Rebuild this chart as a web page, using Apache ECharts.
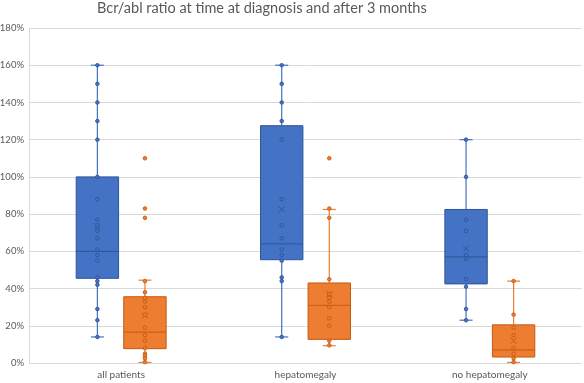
<!DOCTYPE html>
<html>
<head>
<meta charset="utf-8">
<script src="https://cdn.jsdelivr.net/npm/echarts@6/dist/echarts.min.js"></script>
<style>html,body{margin:0;padding:0;background:#fff}#c{width:584px;height:383px}</style>
</head>
<body>
<div id="c"></div>
<script>
var categories = ['all patients', 'hepatomegaly', 'no hepatomegaly'];
var yTicks = [0, 20, 40, 60, 80, 100, 120, 140, 160, 180];

// Box statistics (percent), one entry per category
var diagMin  = [14, 14, 23];
var diagQ1   = [45.5, 55.5, 42.5];
var diagMed  = [60, 64, 57];
var diagQ3   = [100, 127.5, 82.5];
var diagMax  = [160, 160, 120];
var diagMean = [73.5, 82.5, 61.5];

var m3Min  = [0.3, 9.3, 0.3];
var m3Q1   = [7.7, 12.7, 3.2];
var m3Med  = [16.6, 31, 7];
var m3Q3   = [35.6, 43, 20.5];
var m3Max  = [44.5, 82.5, 44];
var m3Mean = [25.5, 37, 12];

// Individual points (percent)
var diagAll   = [160, 150, 140, 130, 120, 100, 88, 77, 74, 71, 67, 61, 58, 55, 46, 44, 42, 29, 23, 14];
var diagHep   = [160, 150, 140, 130, 120, 88, 74, 67, 61, 58, 55, 46, 44, 14];
var diagNoHep = [120, 100, 77, 71, 58, 56, 45, 41, 29, 23];
var m3All     = [110, 83, 78, 44, 38, 35, 33, 30, 26, 19, 15, 12, 8, 5, 4, 2.5, 0.5];
var m3Hep     = [110, 83, 78, 45, 37, 35, 33, 30, 24, 20, 12, 9.5];
var m3NoHep   = [44, 26, 19, 15, 8, 5, 2.5, 0.5];

var BLUE = '#4472C4', BLUE_D = '#2F5597';
var ORANGE = '#ED7D31', ORANGE_D = '#C55A11';
var OFFSET = 0.129, HALFBOX = 0.115, CAP = 6.5;

function boxData(mn, q1, md, q3, mx, mean) {
  return categories.map(function (c, i) { return [i, mn[i], q1[i], md[i], q3[i], mx[i], mean[i]]; });
}
function pointData(groups) {
  var out = [];
  groups.forEach(function (g, i) { g.forEach(function (v) { out.push([i, v]); }); });
  return out;
}
function boxRender(sign, fill, stroke) {
  return function (params, api) {
    var i = api.value(0);
    var band = api.size([1, 0])[0];
    var cx = api.coord([i, 0])[0] + sign * OFFSET * band;
    var hw = HALFBOX * band;
    function y(k) { return api.coord([i, api.value(k)])[1]; }
    var yMin = y(1), yQ1 = y(2), yMed = y(3), yQ3 = y(4), yMax = y(5), yMean = y(6);
    var ls = { stroke: fill, lineWidth: 1.2 };
    var xs = 3;
    return { type: 'group', children: [
      { type: 'line', shape: { x1: cx, y1: yMax, x2: cx, y2: yQ3 }, style: ls },
      { type: 'line', shape: { x1: cx, y1: yMin, x2: cx, y2: yQ1 }, style: ls },
      { type: 'line', shape: { x1: cx - CAP, y1: yMax, x2: cx + CAP, y2: yMax }, style: ls },
      { type: 'line', shape: { x1: cx - CAP, y1: yMin, x2: cx + CAP, y2: yMin }, style: ls },
      { type: 'rect', shape: { x: cx - hw, y: yQ3, width: 2 * hw, height: yQ1 - yQ3 }, style: { fill: fill, stroke: stroke, lineWidth: 1 } },
      { type: 'line', shape: { x1: cx - hw, y1: yMed, x2: cx + hw, y2: yMed }, style: { stroke: stroke, lineWidth: 1 } },
      { type: 'line', shape: { x1: cx - xs, y1: yMean - xs, x2: cx + xs, y2: yMean + xs }, style: { stroke: stroke, lineWidth: 1 } },
      { type: 'line', shape: { x1: cx - xs, y1: yMean + xs, x2: cx + xs, y2: yMean - xs }, style: { stroke: stroke, lineWidth: 1 } }
    ]};
  };
}
function pointRender(sign, fill, stroke) {
  return function (params, api) {
    var i = api.value(0);
    var band = api.size([1, 0])[0];
    var p = api.coord([i, api.value(1)]);
    return { type: 'circle', shape: { cx: p[0] + sign * OFFSET * band, cy: p[1], r: 1.8 },
      style: { fill: fill, stroke: stroke, lineWidth: 0.9 } };
  };
}

var chart = echarts.init(document.getElementById('c'), null, { renderer: 'canvas' });
chart.setOption({
  animation: false,
  title: {
    text: 'Bcr/abl ratio at time at diagnosis and after 3 months',
    left: 97, top: 1, padding: 0,
    textStyle: { fontFamily: 'Lato', fontSize: 14.5, fontWeight: 'normal', color: '#595959' }
  },
  grid: { left: 29, right: 2, top: 28, bottom: 20, containLabel: false, outerBoundsMode: 'none' },
  xAxis: {
    type: 'category', data: categories, boundaryGap: true,
    axisLine: { show: false }, axisTick: { show: false },
    axisLabel: { fontFamily: 'Lato', fontSize: 10, color: '#595959', margin: 7 },
    splitLine: { show: false }
  },
  yAxis: {
    type: 'value', min: yTicks[0], max: yTicks[yTicks.length - 1], interval: 20,
    axisLine: { show: true, lineStyle: { color: '#D9D9D9' } }, axisTick: { show: false },
    axisLabel: { fontFamily: 'Lato', fontSize: 9.5, color: '#595959', margin: 5, formatter: '{value}%' },
    splitLine: { lineStyle: { color: '#D9D9D9' } }
  },
  series: [
    { type: 'custom', name: 'diagnosis', renderItem: boxRender(-1, BLUE, BLUE_D), data: boxData(diagMin, diagQ1, diagMed, diagQ3, diagMax, diagMean), encode: { x: 0, y: [1, 2, 3, 4, 5, 6] }, z: 2 },
    { type: 'custom', name: '3 months', renderItem: boxRender(1, ORANGE, ORANGE_D), data: boxData(m3Min, m3Q1, m3Med, m3Q3, m3Max, m3Mean), encode: { x: 0, y: [1, 2, 3, 4, 5, 6] }, z: 2 },
    { type: 'custom', name: 'diagnosis points', renderItem: pointRender(-1, BLUE, BLUE_D), data: pointData([diagAll, diagHep, diagNoHep]), encode: { x: 0, y: 1 }, z: 3 },
    { type: 'custom', name: '3 months points', renderItem: pointRender(1, ORANGE, ORANGE_D), data: pointData([m3All, m3Hep, m3NoHep]), encode: { x: 0, y: 1 }, z: 3 }
  ]
});
</script>
</body>
</html>
